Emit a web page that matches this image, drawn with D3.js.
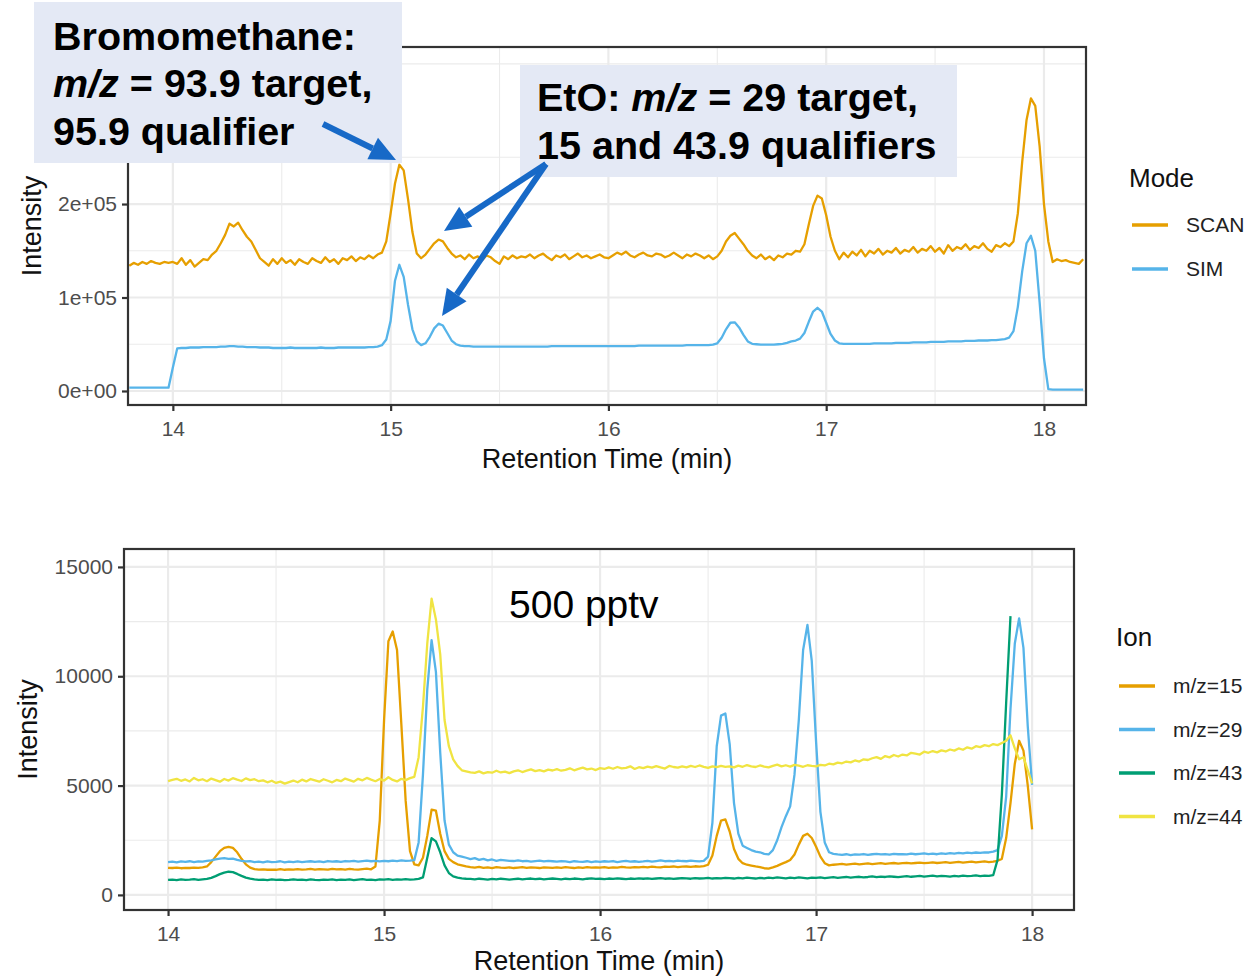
<!DOCTYPE html>
<html>
<head>
  <title>EtO chromatograms</title>
  <script src="https://d3js.org/d3.v7.min.js"></script>
  <style>
    body {
      margin: 0;
      background: #fff;
      font-family: 'Liberation Sans', Arial, sans-serif;
    }
  </style>
</head>
<body>
  <div id="chart"></div>

  <script>
    // ---- top panel: SCAN vs SIM, intensity in thousands, sampled every 0.02 min from 13.80
    const topStart = 13.80;
    const topStep = 0.02;
    const topXTicks = [14, 15, 16, 17, 18];
    const topYTicks = [0, 100000, 200000];
    const topYLabels = ["0e+00", "1e+05", "2e+05"];
    const modeNames = ["SCAN", "SIM"];

    const scanK = [
      134,137,135,138,136,139,137,136,138,137,   // 13.80
      138,136,142,135,140,133,137,141,140,146,   // 14.00
      150,158,167,179,176,180,172,165,160,151,   // 14.20
      142,138,134,141,136,142,137,140,135,141,   // 14.40
      138,136,142,139,137,143,138,141,136,142,   // 14.60
      140,144,139,143,141,145,142,146,148,160,   // 14.80
      190,222,242,236,205,170,147,142,146,152,   // 15.00
      158,162,160,153,147,143,145,141,146,142,   // 15.20
      144,140,145,143,139,136,144,141,145,142,   // 15.40
      144,143,146,142,145,147,143,140,145,143,   // 15.60
      146,141,144,147,143,145,142,144,146,143,   // 15.80
      142,145,148,146,149,145,143,146,148,145,   // 16.00
      144,147,146,143,145,148,145,142,146,144,   // 16.20
      147,145,142,145,141,144,150,160,166,169,   // 16.40
      163,157,150,145,142,146,141,144,140,145,   // 16.60
      143,147,146,150,149,157,178,198,209,206,   // 16.80
      188,165,150,141,148,143,149,145,151,144,   // 17.00
      150,147,152,146,150,148,153,147,151,149,   // 17.20
      154,148,152,150,155,149,153,147,156,150,   // 17.40
      154,152,157,151,155,153,158,152,149,156,   // 17.60
      154,158,155,160,190,245,290,313,305,262,   // 17.80
      200,160,138,141,139,140,138,137,136,141    // 18.00
    ];

    const simK = [
      3.5,3.5,3.5,3.5,3.5,3.5,3.5,3.5,3.5,3.5,          // 13.80
      25,45.5,46,46,46.5,46.5,46.5,47,47,47,            // 14.00
      47,47.5,47.5,48,48,47.5,47.5,47,47,47,            // 14.20
      46.5,46.5,46.5,46,46,46,46,46.5,46,46,            // 14.40
      46,46,46,46,46.5,46,46,46,46.5,46.5,              // 14.60
      46.5,46.5,46.5,46.5,46.5,47,47,47.5,49,55,        // 14.80
      75,118,135,122,92,66,53,49,51,58,                 // 15.00
      67,72,70,62,54,50,48.5,48,48,47.5,                // 15.20
      47.5,47.5,47.5,47.5,47.5,47.5,47.5,47.5,47.5,47.5,// 15.40
      47.5,47.5,47.5,47.5,47.5,47.5,47.5,48,48,48,      // 15.60
      48,48,48,48,48,48,48,48,48,48,                    // 15.80
      48,48,48,48,48,48,48,48.5,48.5,48.5,              // 16.00
      48.5,48.5,48.5,48.5,48.5,48.5,48.5,48.5,49,49,    // 16.20
      49,49,49,49,49.5,51,57,66,73,73.5,                // 16.40
      68,60,53,50.5,50,49.5,49.5,49.5,49.5,50,          // 16.60
      50.5,51.5,53,54,56,62,74,85,89,85,                // 16.80
      73,61,54,51,50.5,50.5,50.5,50.5,50.5,50.5,        // 17.00
      50.5,51,51,51,51,51,51.5,51.5,51.5,51.5,          // 17.20
      52,52,52,52,52.5,52.5,52.5,52.5,53,53,            // 17.40
      53,53,53.5,53.5,53.5,54,54,54,54.5,54.5,          // 17.60
      55,55.5,57,64,90,128,158,166,150,95,              // 17.80
      35,2,1.5,1.5,1.5,1.5,1.5,1.5,1.5,1.5              // 18.00
    ];

    // ---- bottom panel: 500 pptv, one value every 0.02 min from 14.00
    const botStart = 14.00;
    const botStep = 0.02;
    const botXTicks = [14, 15, 16, 17, 18];
    const botYTicks = [0, 5000, 10000, 15000];
    const ionNames = ["m/z=15", "m/z=29", "m/z=43", "m/z=44"];

    const mz15 = [
      1240,1230,1250,1220,1240,1230,1250,1240,1260,1300,   // 14.00
      1500,1750,2000,2150,2200,2150,1950,1650,1400,1250,   // 14.20
      1180,1160,1170,1150,1160,1150,1180,1150,1170,1160,   // 14.40
      1180,1160,1170,1190,1160,1180,1170,1160,1190,1170,   // 14.60
      1180,1160,1190,1170,1160,1180,1200,1170,1300,3400,   // 14.80
      8000,11600,12050,11200,7800,4300,2000,1400,1350,1700,// 15.00
      2700,3900,3850,2800,2000,1650,1500,1400,1350,1300,   // 15.20
      1270,1250,1280,1240,1260,1230,1270,1250,1240,1260,   // 15.40
      1230,1250,1270,1240,1260,1250,1230,1260,1250,1240,   // 15.60
      1260,1240,1270,1250,1230,1260,1240,1270,1250,1260,   // 15.80
      1250,1270,1240,1260,1250,1280,1260,1250,1270,1260,   // 16.00
      1280,1260,1290,1270,1260,1290,1280,1300,1270,1290,   // 16.20
      1300,1280,1310,1290,1320,1380,1800,2700,3400,3450,   // 16.40
      2900,2100,1650,1450,1380,1340,1300,1270,1220,1200,   // 16.60
      1260,1330,1420,1500,1600,1850,2300,2700,2800,2600,   // 16.80
      2200,1750,1450,1350,1380,1400,1420,1390,1410,1430,   // 17.00
      1400,1420,1440,1410,1430,1450,1420,1440,1460,1430,   // 17.20
      1450,1470,1440,1460,1480,1450,1470,1490,1460,1480,   // 17.40
      1500,1470,1490,1510,1480,1500,1520,1490,1510,1530,   // 17.60
      1500,1520,1560,1650,2600,4200,6000,7050,6600,5000,   // 17.80
      3000                                                 // 18.00
    ];

    const mz29 = [
      1500,1520,1490,1530,1510,1540,1500,1530,1520,1560,   // 14.00
      1580,1620,1660,1680,1650,1660,1600,1560,1530,1540,   // 14.20
      1500,1520,1490,1530,1500,1510,1540,1490,1520,1500,   // 14.40
      1530,1500,1520,1540,1510,1530,1500,1550,1520,1540,   // 14.60
      1510,1550,1530,1560,1520,1550,1570,1540,1560,1530,   // 14.80
      1560,1540,1570,1550,1580,1560,1570,1590,2400,5500,   // 15.00
      9400,11650,10200,6500,3400,2300,1950,1800,1750,1700, // 15.20
      1640,1680,1600,1650,1580,1620,1560,1600,1580,1560,   // 15.40
      1550,1580,1540,1560,1520,1550,1570,1530,1560,1540,   // 15.60
      1520,1550,1530,1500,1540,1520,1510,1540,1500,1530,   // 15.80
      1510,1540,1520,1550,1500,1530,1560,1520,1540,1510,   // 16.00
      1530,1560,1520,1550,1580,1540,1560,1530,1570,1550,   // 16.20
      1540,1570,1550,1530,1560,1750,3300,6800,8200,8300,   // 16.40
      6900,4200,2800,2250,2150,2050,1980,1950,1880,1850,   // 16.60
      2050,2500,3100,3600,4050,5500,8000,11200,12350,10700,// 16.80
      7000,3800,2400,1950,1880,1850,1830,1860,1820,1850,   // 17.00
      1840,1870,1830,1860,1880,1850,1870,1840,1880,1860,   // 17.20
      1870,1850,1890,1860,1880,1900,1870,1890,1860,1900,   // 17.40
      1880,1910,1890,1920,1900,1930,1910,1940,1920,1950,   // 17.60
      1940,1980,2050,2700,4500,8500,11500,12650,11300,7700,// 17.80
      5030                                                 // 18.00
    ];

    const mz43 = [
      690,700,680,710,690,700,720,690,710,730,             // 14.00
      780,860,950,1020,1060,1040,960,870,790,740,          // 14.20
      710,690,700,680,710,690,700,680,690,710,             // 14.40
      690,700,680,710,690,680,700,690,710,680,             // 14.60
      700,690,710,680,700,720,690,700,680,710,             // 14.80
      700,720,690,710,700,720,700,710,730,800,             // 15.00
      1700,2600,2450,1950,1350,1000,850,790,760,740,       // 15.20
      730,710,740,720,700,730,710,740,720,700,             // 15.40
      720,740,710,730,750,720,740,710,730,750,             // 15.60
      730,710,740,720,750,730,710,740,760,730,             // 15.80
      740,720,750,730,760,740,720,750,730,760,             // 16.00
      740,760,730,750,770,740,760,730,750,770,             // 16.20
      760,740,770,750,760,780,750,770,760,780,             // 16.40
      770,750,780,760,790,770,750,780,760,790,             // 16.60
      770,800,780,760,790,770,800,780,760,790,             // 16.80
      780,800,770,790,810,780,800,820,790,810,             // 17.00
      830,800,820,850,810,840,820,850,830,810,             // 17.20
      840,860,830,850,870,840,860,880,850,870,             // 17.40
      860,840,870,850,880,860,870,890,860,880,             // 17.60
      870,900,1600,4600,8800,12750                         // 17.80 (trace stops at 17.90)
    ];

    const mz44 = [
      5200,5260,5310,5220,5280,5190,5350,5240,5290,5200,   // 14.00
      5320,5250,5180,5300,5230,5340,5270,5210,5330,5250,   // 14.20
      5290,5200,5240,5150,5220,5120,5180,5090,5160,5230,   // 14.40
      5150,5270,5190,5300,5240,5180,5290,5220,5150,5260,   // 14.60
      5200,5320,5250,5180,5310,5240,5350,5270,5200,5300,   // 14.80
      5230,5380,5260,5190,5310,5250,5340,5400,6300,8600,   // 15.00
      11500,13550,12600,11000,8000,6800,6200,5900,5700,5650,// 15.20
      5600,5580,5650,5560,5620,5590,5680,5600,5640,5570,   // 15.40
      5650,5700,5620,5680,5740,5660,5710,5650,5730,5690,   // 15.60
      5750,5680,5720,5790,5700,5760,5820,5740,5780,5710,   // 15.80
      5800,5760,5830,5770,5850,5790,5810,5880,5760,5840,   // 16.00
      5800,5870,5820,5890,5830,5780,5900,5850,5820,5880,   // 16.20
      5830,5900,5850,5920,5860,5810,5880,5840,5900,5860,   // 16.40
      5880,5830,5910,5860,5940,5880,5850,5920,5870,5830,   // 16.60
      5900,5960,5880,5930,5870,5950,5910,5860,5930,5900,   // 16.80
      5880,5950,5920,6000,5970,6050,6020,6100,6060,6150,   // 17.00
      6100,6200,6170,6250,6300,6220,6350,6290,6400,6330,   // 17.20
      6420,6380,6500,6460,6420,6550,6500,6580,6520,6610,   // 17.40
      6560,6650,6600,6700,6640,6750,6690,6800,6760,6850,   // 17.60
      6800,6900,6850,6950,7050,7300,6700,6200,6300,5700,   // 17.80
      5100                                                 // 18.00
    ];

    const modeColors = ["#E69F00", "#56B4E9"];
    const ionColors = ["#E69F00", "#56B4E9", "#009E73", "#F0E442"];

    const W = 1256, H = 977;
    const svg = d3.select("#chart").append("svg")
      .attr("width", W)
      .attr("height", H);

    function toPoints(vals, start, step, mult) {
      return vals.map(function(v, i) {
        return { t: start + step * i, v: v * mult };
      });
    }

    // draws one ggplot-like panel (theme_bw)
    function drawPanel(cfg) {
      const x = d3.scaleLinear().domain(cfg.xDomain).range([cfg.left, cfg.right]);
      const y = d3.scaleLinear().domain(cfg.yDomain).range([cfg.bottom, cfg.top]);
      const g = svg.append("g");

      // minor grid
      const xMinor = cfg.xTicks.slice(0, -1).map(d => d + 0.5);
      const yStep = cfg.yTicks[1] - cfg.yTicks[0];
      const yMinor = d3.range(cfg.yTicks[0] + yStep / 2, cfg.yDomain[1], yStep);
      g.selectAll(".xminor").data(xMinor).join("line")
        .attr("x1", d => x(d)).attr("x2", d => x(d))
        .attr("y1", cfg.top).attr("y2", cfg.bottom)
        .attr("stroke", "#ebebeb").attr("stroke-width", 1.1);
      g.selectAll(".yminor").data(yMinor).join("line")
        .attr("y1", d => y(d)).attr("y2", d => y(d))
        .attr("x1", cfg.left).attr("x2", cfg.right)
        .attr("stroke", "#ebebeb").attr("stroke-width", 1.1);

      // major grid
      g.selectAll(".xmajor").data(cfg.xTicks).join("line")
        .attr("x1", d => x(d)).attr("x2", d => x(d))
        .attr("y1", cfg.top).attr("y2", cfg.bottom)
        .attr("stroke", "#ebebeb").attr("stroke-width", 2.2);
      g.selectAll(".ymajor").data(cfg.yTicks).join("line")
        .attr("y1", d => y(d)).attr("y2", d => y(d))
        .attr("x1", cfg.left).attr("x2", cfg.right)
        .attr("stroke", "#ebebeb").attr("stroke-width", 2.2);

      // series
      const line = d3.line().x(d => x(d.t)).y(d => y(d.v));
      cfg.series.forEach(function(s) {
        g.append("path")
          .datum(s.points)
          .attr("d", line)
          .attr("fill", "none")
          .attr("stroke", s.color)
          .attr("stroke-width", 2.3)
          .attr("stroke-linejoin", "round");
      });

      // border
      g.append("rect")
        .attr("x", cfg.left).attr("y", cfg.top)
        .attr("width", cfg.right - cfg.left).attr("height", cfg.bottom - cfg.top)
        .attr("fill", "none").attr("stroke", "#333").attr("stroke-width", 2.2);

      // axes
      const xAxis = g.append("g")
        .attr("transform", "translate(0," + cfg.bottom + ")")
        .call(d3.axisBottom(x).tickValues(cfg.xTicks).tickSize(6).tickPadding(10).tickFormat(d3.format("d")));
      const yAxis = g.append("g")
        .attr("transform", "translate(" + cfg.left + ",0)")
        .call(d3.axisLeft(y).tickValues(cfg.yTicks).tickSize(6).tickPadding(5)
          .tickFormat((d, i) => cfg.yLabels ? cfg.yLabels[i] : d));
      [xAxis, yAxis].forEach(function(a) {
        a.select(".domain").remove();
        a.selectAll(".tick line").attr("stroke", "#333").attr("stroke-width", 2.2);
        a.selectAll(".tick text")
          .attr("fill", "#4d4d4d")
          .style("font-family", "'Liberation Sans', Arial, sans-serif")
          .style("font-size", "21px");
      });

      // axis titles
      g.append("text")
        .attr("x", (cfg.left + cfg.right) / 2).attr("y", cfg.xTitleY)
        .attr("text-anchor", "middle")
        .style("font-size", "27px").attr("fill", "#111")
        .text("Retention Time (min)");
      g.append("text")
        .attr("transform", "translate(" + cfg.yTitleX + "," + (cfg.top + cfg.bottom) / 2 + ") rotate(-90)")
        .attr("text-anchor", "middle")
        .style("font-size", "27px").attr("fill", "#111")
        .text("Intensity");

      // legend
      const lg = svg.append("g");
      lg.append("text")
        .attr("x", cfg.legendX).attr("y", cfg.legendTitleY)
        .style("font-size", "26px").attr("fill", "#111")
        .text(cfg.legendTitle);
      cfg.series.forEach(function(s, i) {
        const ly = cfg.legendKeyY + i * cfg.legendGap;
        lg.append("line")
          .attr("x1", cfg.legendX + 3).attr("x2", cfg.legendX + 39)
          .attr("y1", ly).attr("y2", ly)
          .attr("stroke", s.color).attr("stroke-width", 3.5);
        lg.append("text")
          .attr("x", cfg.legendX + 57).attr("y", ly)
          .attr("dy", "0.35em")
          .style("font-size", "21px").attr("fill", "#222")
          .text(s.name);
      });

      return { x: x, y: y };
    }

    drawPanel({
      left: 128, right: 1086, top: 47, bottom: 405,
      xDomain: [13.794, 18.193], yDomain: [-15000, 368000],
      xTicks: topXTicks, yTicks: topYTicks, yLabels: topYLabels,
      xTitleY: 468, yTitleX: 41,
      legendX: 1129, legendTitle: "Mode", legendTitleY: 187, legendKeyY: 225, legendGap: 44,
      series: [
        { name: modeNames[0], color: modeColors[0], points: toPoints(scanK, topStart, topStep, 1000) },
        { name: modeNames[1], color: modeColors[1], points: toPoints(simK, topStart, topStep, 1000) }
      ]
    });

    drawPanel({
      left: 124, right: 1074, top: 549, bottom: 910,
      xDomain: [13.796, 18.194], yDomain: [-690, 15820],
      xTicks: botXTicks, yTicks: botYTicks,
      xTitleY: 970, yTitleX: 37,
      legendX: 1116, legendTitle: "Ion", legendTitleY: 646, legendKeyY: 686, legendGap: 43.5,
      series: [
        { name: ionNames[0], color: ionColors[0], points: toPoints(mz15, botStart, botStep, 1) },
        { name: ionNames[1], color: ionColors[1], points: toPoints(mz29, botStart, botStep, 1) },
        { name: ionNames[2], color: ionColors[2], points: toPoints(mz43, botStart, botStep, 1) },
        { name: ionNames[3], color: ionColors[3], points: toPoints(mz44, botStart, botStep, 1) }
      ]
    });

    svg.append("text")
      .attr("x", 509).attr("y", 618)
      .style("font-size", "39px").attr("fill", "#000")
      .text("500 pptv");

    // ---- callout boxes and arrows (top panel)
    const boxFill = "#e4e9f5";
    const arrowColor = "#1769c7";

    svg.append("rect").attr("x", 34).attr("y", 2).attr("width", 368).attr("height", 161).attr("fill", boxFill);
    svg.append("rect").attr("x", 520).attr("y", 65).attr("width", 437).attr("height", 112).attr("fill", boxFill);

    function boldLine(x, y, parts) {
      const t = svg.append("text")
        .attr("x", x).attr("y", y)
        .style("font-size", "39.5px").style("font-weight", "bold").attr("fill", "#000");
      parts.forEach(function(p) {
        t.append("tspan").style("font-style", p.italic ? "italic" : "normal").text(p.text);
      });
    }
    boldLine(53, 50, [{ text: "Bromomethane:" }]);
    boldLine(53, 97, [{ text: "m/z", italic: true }, { text: " = 93.9 target," }]);
    boldLine(53, 145, [{ text: "95.9 qualifier" }]);
    boldLine(537, 111, [{ text: "EtO: " }, { text: "m/z", italic: true }, { text: " = 29 target," }]);
    boldLine(537, 159, [{ text: "15 and 43.9 qualifiers" }]);

    function arrow(x1, y1, x2, y2) {
      const ang = Math.atan2(y2 - y1, x2 - x1);
      const headLen = 26, headW = 12;
      const bx = x2 - headLen * Math.cos(ang), by = y2 - headLen * Math.sin(ang);
      svg.append("line")
        .attr("x1", x1).attr("y1", y1).attr("x2", bx).attr("y2", by)
        .attr("stroke", arrowColor).attr("stroke-width", 6);
      const px = -Math.sin(ang), py = Math.cos(ang);
      svg.append("path")
        .attr("d", "M" + x2 + "," + y2 +
          "L" + (bx + px * headW) + "," + (by + py * headW) +
          "L" + (bx - px * headW) + "," + (by - py * headW) + "Z")
        .attr("fill", arrowColor);
    }
    arrow(323, 124, 396, 160);
    arrow(546, 164, 444, 231);
    arrow(546, 164, 442, 316);
  </script>
</body>
</html>
